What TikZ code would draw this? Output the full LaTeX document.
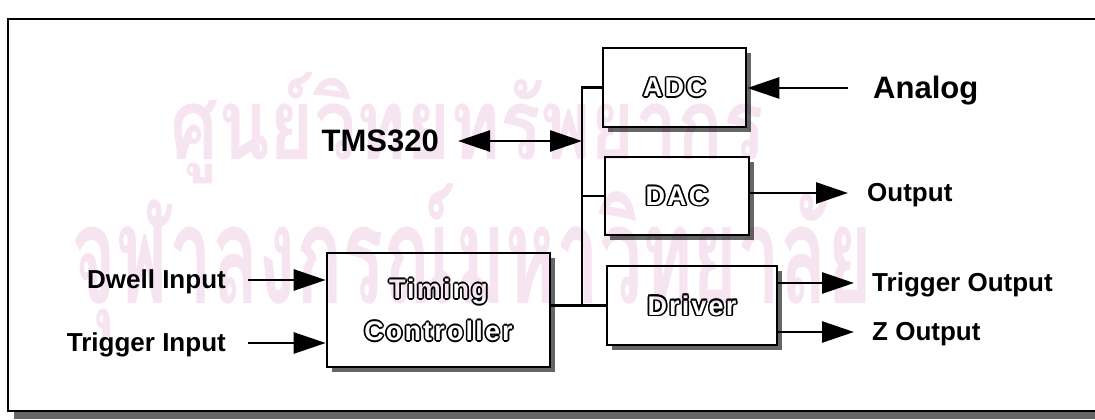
\documentclass[tikz,border=0pt]{standalone}
\usepackage{fontspec}
\setmainfont{Liberation Sans}
\newfontfamily\boxfont[LetterSpace=8]{Liberation Sans}
\newfontfamily\thaifont[Script=Thai]{Loma}
\usetikzlibrary{arrows.meta,shadows}
\definecolor{wmpink}{RGB}{246,228,240}
\newcommand\olc[3]{\rlap{\hspace*{#1}\raisebox{#2}{\color{black}#3}}}
\newcommand\otext[1]{\olc{1.7pt}{0pt}{#1}\olc{-1.7pt}{0pt}{#1}\olc{0pt}{1.7pt}{#1}\olc{0pt}{-1.7pt}{#1}\olc{1.2pt}{1.2pt}{#1}\olc{-1.2pt}{1.2pt}{#1}\olc{1.2pt}{-1.2pt}{#1}\olc{-1.2pt}{-1.2pt}{#1}{\color{white}#1}}
\tikzset{
  blk/.style={draw, line width=2.6pt, fill=white, inner sep=0pt,
    drop shadow={shadow xshift=5pt, shadow yshift=-5pt, fill=black!60, opacity=1},
    font=\boxfont\bfseries\fontsize{27}{42}\selectfont, align=center},
  lab/.style={inner sep=0pt, text height=18pt, text depth=0pt,
    font=\bfseries\fontsize{26}{30}\selectfont},
  big/.style={inner sep=0pt, text height=22pt, text depth=0pt,
    font=\bfseries\fontsize{31}{36}\selectfont},
  wire/.style={line width=2.6pt},
  arr/.style={line width=2.6pt, -{Triangle[length=32pt,width=21pt]}},
  arrb/.style={line width=2.6pt, {Triangle[length=32pt,width=21pt]}-{Triangle[length=32pt,width=21pt]}},
  wm/.style={text=wmpink, inner sep=0pt}
}
\begin{document}
\begin{tikzpicture}[x=1pt,y=1pt]
\useasboundingbox (0,0) rectangle (1095,420);
\clip (0,0) rectangle (1095,420);
\fill[white] (0,0) rectangle (1095,420);
% frame
\fill[black!60] (14,1) rectangle (1110,9);
\draw[line width=2.6pt] (1110,401) -- (8,401) -- (8,9) -- (1110,9);
% blocks
\node[blk, minimum width=143pt, minimum height=79pt] (adc) at (674.5,332.5) {\otext{ADC}};
\node[blk, minimum width=144pt, minimum height=78pt] (dac) at (677,224) {\otext{DAC}};
\node[blk, minimum width=170pt, minimum height=79pt] (drv) at (692,114.5) {\otext{Driver}};
\node[blk, minimum width=223pt, minimum height=114pt] (tc) at (438.5,110) {\otext{Timing}\\\otext{Controller}};
% labels
\node[big, anchor=east] (tms) at (439,279) {TMS320};
\node[big, anchor=west] (analog) at (873,332) {Analog};
\node[lab, anchor=west] (out) at (867,227) {Output};
\node[lab, anchor=west] (tout) at (872,137) {Trigger Output};
\node[lab, anchor=west] (zout) at (872,88) {Z Output};
\node[lab, anchor=east] (dwell) at (226,140) {Dwell Input};
\node[lab, anchor=east] (tin) at (226,77) {Trigger Input};
% bus
\coordinate (bus) at (582,0);
\draw[wire] (adc.west) -- (adc.west -| bus) -- (drv.west -| bus);
\draw[wire] (dac.west) -- (dac.west -| bus);
\draw[wire] (tc.east |- drv.west) -- (drv.west);
\draw[arrb] ([xshift=19pt]tms.east) -- (tms.east -| bus);
% arrows
\draw[arr] ([xshift=-25pt]analog.west) -- (adc.east |- analog.west);
\draw[arr] (dac.east |- out.west) -- ([xshift=-19pt]out.west);
\draw[arr] (drv.east |- tout.west) -- ([xshift=-18pt]tout.west);
\draw[arr] (drv.east |- zout.west) -- ([xshift=-18pt]zout.west);
\draw[arr] ([xshift=22pt]dwell.east) -- (dwell.east -| tc.west);
\draw[arr] ([xshift=22pt]tin.east) -- (tin.east -| tc.west);
% watermark, printed over the diagram
\begin{scope}[blend mode=multiply]
\node[wm, anchor=base, xscale=0.84, yscale=1.1, font=\thaifont\bfseries\fontsize{90}{100}\selectfont] (wm1) at (467,260) {ศูนย์วิทยทรัพยากร};
\node[wm, anchor=base, xscale=0.73, yscale=1.3, font=\thaifont\bfseries\fontsize{105}{115}\selectfont] (wm2) at (472,116) {จุฬาลงกรณ์มหาวิทยาลัย};
\end{scope}
\end{tikzpicture}
\end{document}
